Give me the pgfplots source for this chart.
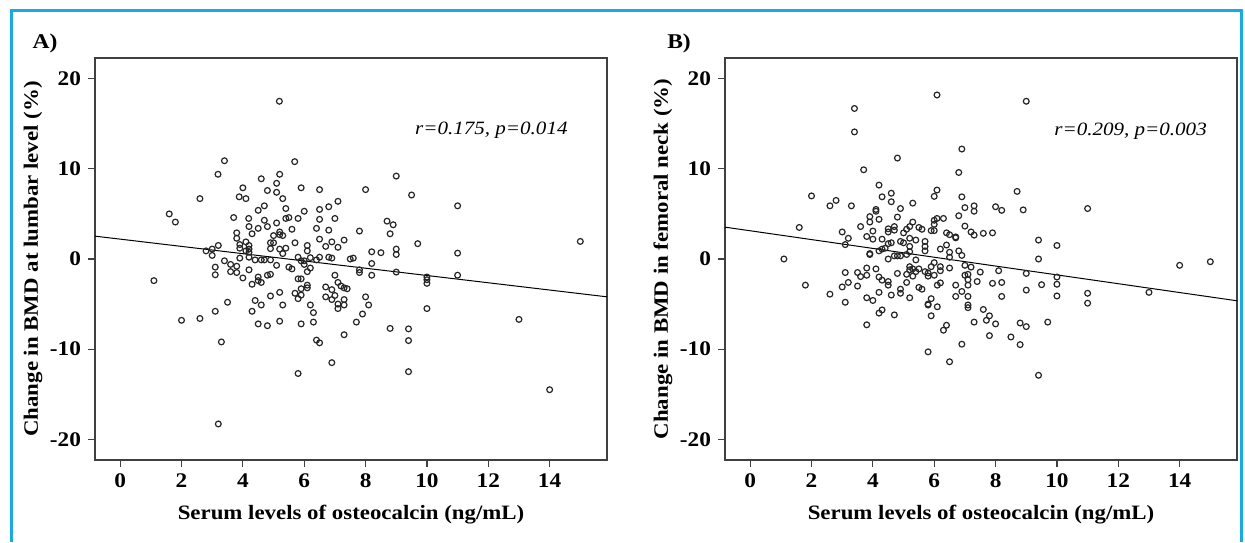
\documentclass[border=0pt]{standalone}
\usepackage{fontspec}
\setmainfont{Liberation Serif}[FakeStretch=1.12]
\usepackage{pgfplots}
\pgfplotsset{compat=1.18}
\definecolor{frameblue}{HTML}{1BA9E1}
\definecolor{axgray}{HTML}{404040}

\pgfplotsset{
  panel/.style={
    scale only axis, width=256pt, height=201pt,
    xmin=-0.82, xmax=15.87, ymin=-22.3, ymax=22.3,
    xtick={0,2,...,14}, ytick={-20,-10,...,20},
    axis line style={axgray, line width=0.6pt},
    tick style={axgray, line width=0.6pt},
    tick align=outside, major tick length=3.5pt,
    xtick pos=bottom, ytick pos=left,
    /pgf/number format/assume math mode=true,
    ticklabel style={font=\fontsize{10.4}{12}\selectfont\bfseries},
    label style={font=\fontsize{10.2}{12}\selectfont\bfseries},
    xlabel={Serum levels of osteocalcin (ng/mL)},
    xlabel style={at={([yshift=-27.5pt]axis description cs:0.5,0)}, anchor=center},
    ylabel style={at={([xshift=-31pt]axis description cs:0,0.5)}, anchor=center},
  },
  dots/.style={only marks, mark=o, mark size=1.45pt,
    mark options={line width=0.6pt, draw=black!85}},
  fit/.style={black, line width=0.5pt, no marks},
}

\begin{document}
\begin{tikzpicture}
\useasboundingbox (0,0) rectangle (622.5pt,271pt);
\draw[frameblue, line width=1.5pt] (5.75pt,0) -- (5.75pt,265.5pt) -- (620.5pt,265.5pt) -- (620.5pt,0);
\node[font=\fontsize{10.5}{12}\selectfont\bfseries] at (22.5pt,249.5pt) {A)};
\node[font=\fontsize{10.5}{12}\selectfont\bfseries] at (339.5pt,249.5pt) {B)};

% panel A: lumbar
\begin{axis}[panel, at={(47.5pt,41pt)}, anchor=south west,
  ylabel={Change in BMD at lumbar level (\%)}]
\addplot[dots] coordinates {
(5.19,17.5)(3.4,10.9)(5.69,10.8)(3.19,9.4)(5.2,9.4)(9.0,9.2)(4.6,8.9)(5.1,8.4)
(4.0,7.9)(5.9,7.9)(6.5,7.7)(8.0,7.7)(4.8,7.6)(5.1,7.4)(9.5,7.1)(3.88,6.9)
(4.1,6.7)(2.6,6.7)(5.3,6.7)(7.1,6.4)(11.0,5.9)(4.7,5.9)(6.8,5.8)(4.5,5.4)
(5.4,5.6)(6.5,5.5)(6.0,5.3)(1.6,5.0)(1.8,4.1)(3.7,4.6)(4.19,4.5)(5.5,4.6)
(5.4,4.5)(5.8,4.5)(6.5,4.4)(7.0,4.5)(4.7,4.3)(5.1,4.0)(4.8,3.6)(8.7,4.2)
(8.9,3.8)(4.2,3.6)(4.5,3.4)(5.6,3.3)(6.4,3.4)(6.8,3.2)(7.8,3.1)(3.8,2.9)
(4.3,2.8)(5.2,3.0)(5.2,2.7)(5.3,2.6)(5.0,2.6)(8.8,2.8)(3.8,2.3)(6.5,2.2)
(7.3,2.1)(4.1,1.9)(5.7,1.8)(6.9,1.9)(15.0,1.95)(9.7,1.7)(4.9,1.8)(5.0,1.8)
(3.2,1.5)(3.9,1.6)(4.2,1.5)(6.1,1.5)(6.7,1.4)(3.9,1.2)(5.4,1.2)(7.1,1.3)
(4.2,1.1)(4.1,0.9)(4.9,1.15)(5.2,1.1)(6.1,0.9)(9.0,1.1)(2.8,0.9)(3.0,1.1)
(8.2,0.8)(8.5,0.7)(11.0,0.65)(5.3,0.6)(9.0,0.5)(4.2,0.75)(3.0,0.4)(4.2,0.2)
(3.9,0.1)(5.8,0.2)(6.2,0.15)(6.5,0.2)(6.8,0.2)(6.9,0.1)(7.5,0.0)(7.6,0.1)
(4.4,-0.1)(4.6,-0.1)(4.7,-0.1)(4.9,-0.1)(3.4,-0.2)(5.9,-0.2)(6.0,-0.2)(6.4,-0.1)
(8.2,-0.5)(6.0,-0.6)(3.6,-0.6)(3.8,-0.8)(5.1,-0.7)(3.1,-0.9)(5.5,-0.9)(6.2,-1.0)
(5.6,-1.1)(4.2,-1.2)(6.1,-1.4)(7.8,-1.2)(3.6,-1.4)(3.8,-1.5)(7.8,-1.5)(9.0,-1.45)
(3.1,-1.75)(4.9,-1.7)(4.8,-1.8)(7.0,-1.8)(8.2,-1.8)(11.0,-1.8)(4.0,-2.1)(4.5,-2.0)
(5.8,-2.2)(5.9,-2.2)(10.0,-2.0)(10.0,-2.3)(10.0,-2.7)(4.5,-2.4)(4.6,-2.6)(1.1,-2.4)
(4.3,-2.8)(7.1,-2.6)(6.1,-2.9)(7.2,-3.0)(6.7,-3.1)(6.1,-3.2)(7.3,-3.2)(7.4,-3.3)
(5.9,-3.3)(6.9,-3.4)(5.2,-3.7)(5.7,-3.8)(5.9,-4.0)(4.9,-4.1)(7.0,-4.05)(6.7,-4.2)
(8.0,-4.2)(5.8,-4.4)(7.3,-4.5)(4.4,-4.6)(6.9,-4.5)(3.5,-4.8)(4.6,-5.1)(5.3,-5.1)
(7.1,-5.0)(6.2,-5.1)(7.3,-5.1)(8.1,-5.1)(10.0,-5.5)(7.1,-5.5)(3.1,-5.8)(4.3,-5.8)
(6.3,-5.95)(7.9,-6.1)(2.0,-6.8)(2.6,-6.6)(5.2,-6.9)(4.5,-7.2)(4.8,-7.4)(5.9,-7.2)
(6.3,-7.0)(7.7,-7.0)(8.8,-7.7)(9.4,-7.75)(13.0,-6.7)(7.3,-8.4)(6.4,-9.0)(6.5,-9.3)
(3.3,-9.2)(9.4,-9.05)(6.9,-11.5)(5.8,-12.7)(9.4,-12.5)(14.0,-14.5)(3.2,-18.3)
};
\addplot[fit] coordinates {(-0.82,2.536) (15.87,-4.197)};
\node[font=\fontsize{9.4}{11}\selectfont\itshape] at (axis cs:12.1,14.3) {r=0.175, p=0.014};
\end{axis}

% panel B: femoral neck
\begin{axis}[panel, at={(362.5pt,41pt)}, anchor=south west,
  ylabel={Change in BMD in femoral neck (\%)}]
\addplot[dots] coordinates {
(6.09,18.2)(9.0,17.5)(3.4,16.7)(3.4,14.1)(6.9,12.2)(4.8,11.2)(3.7,9.9)(6.8,9.6)
(4.2,8.2)(6.09,7.65)(8.7,7.5)(4.6,7.3)(2.0,7.0)(6.0,6.95)(6.9,6.9)(4.3,6.9)
(2.8,6.5)(4.6,6.35)(5.3,6.2)(2.6,5.9)(3.3,5.9)(7.3,5.9)(8.0,5.8)(7.0,5.7)
(4.9,5.6)(11.0,5.6)(4.1,5.5)(8.9,5.45)(8.2,5.4)(7.3,5.3)(4.1,5.3)(3.9,4.7)
(6.8,4.8)(4.8,4.65)(6.3,4.5)(6.09,4.5)(4.2,4.4)(6.0,4.3)(3.9,4.1)(5.3,4.1)
(6.0,3.85)(7.0,3.65)(3.6,3.6)(4.7,3.6)(5.2,3.6)(1.6,3.5)(5.5,3.5)(5.6,3.3)
(4.5,3.35)(5.1,3.3)(4.0,3.1)(6.0,3.15)(5.9,3.15)(4.7,3.2)(4.5,3.0)(3.0,3.0)
(7.2,3.0)(5.0,2.9)(7.9,2.9)(7.6,2.85)(6.4,2.9)(6.5,2.7)(7.3,2.65)(3.8,2.5)
(6.7,2.45)(6.7,2.35)(3.2,2.3)(4.0,2.2)(4.3,2.2)(5.4,2.1)(5.2,2.3)(9.4,2.1)
(4.9,1.95)(5.7,1.95)(4.6,1.8)(5.0,1.8)(3.1,1.6)(4.5,1.7)(5.7,1.4)(5.2,1.4)
(6.4,1.55)(10.0,1.5)(4.4,1.2)(6.2,1.1)(4.3,1.1)(5.7,0.9)(6.8,0.9)(4.2,0.9)
(5.2,0.8)(6.5,0.75)(3.9,0.6)(3.9,0.5)(5.1,0.5)(4.7,0.35)(4.8,0.35)(4.9,0.35)
(6.9,0.4)(6.5,0.2)(1.1,0.0)(4.5,0.0)(9.4,0.0)(5.4,-0.1)(15.0,-0.3)(6.0,-0.4)
(14.0,-0.7)(7.0,-0.7)(7.2,-0.9)(5.2,-0.85)(5.9,-0.85)(6.2,-0.85)(6.5,-1.0)(3.8,-1.0)
(4.1,-1.1)(5.3,-1.1)(5.5,-1.1)(5.2,-1.2)(6.2,-1.3)(8.1,-1.3)(5.4,-1.4)(5.7,-1.4)
(5.8,-1.55)(3.1,-1.5)(3.5,-1.5)(7.5,-1.45)(9.0,-1.6)(4.8,-1.6)(5.1,-1.7)(7.1,-1.7)
(7.0,-1.8)(3.8,-1.8)(3.6,-1.95)(5.3,-1.9)(6.0,-1.8)(5.8,-1.9)(10.0,-2.0)(4.2,-2.0)
(4.3,-2.35)(7.1,-2.3)(4.5,-2.5)(7.4,-2.5)(5.1,-2.6)(6.2,-2.65)(7.9,-2.7)(8.2,-2.6)
(3.2,-2.6)(10.0,-2.8)(4.5,-2.9)(6.1,-2.9)(1.8,-2.9)(6.7,-2.9)(7.1,-2.9)(9.5,-2.85)
(3.5,-3.0)(3.0,-3.1)(5.5,-3.15)(5.6,-3.35)(4.9,-3.35)(9.0,-3.45)(6.9,-3.6)(13.0,-3.7)
(4.2,-3.7)(4.9,-3.8)(11.0,-3.8)(2.6,-3.9)(4.6,-4.0)(10.0,-4.1)(6.7,-4.15)(8.2,-4.15)
(7.1,-4.15)(5.2,-4.3)(3.8,-4.3)(5.9,-4.4)(4.0,-4.6)(3.1,-4.8)(11.0,-4.9)(5.8,-5.0)
(5.8,-5.1)(7.1,-5.1)(7.1,-5.4)(6.1,-5.3)(7.6,-5.6)(4.3,-5.65)(4.2,-6.0)(4.7,-6.2)
(5.9,-6.3)(7.8,-6.3)(7.7,-6.8)(9.7,-7.0)(7.3,-7.0)(8.0,-7.2)(8.8,-7.1)(3.8,-7.3)
(9.0,-7.5)(6.4,-7.35)(6.3,-7.9)(7.8,-8.5)(8.5,-8.65)(6.9,-9.45)(8.8,-9.5)(5.8,-10.3)
(6.5,-11.4)(9.4,-12.9)
};
\addplot[fit] coordinates {(-0.82,3.535) (15.87,-4.635)};
\node[font=\fontsize{9.4}{11}\selectfont\itshape] at (axis cs:12.4,14.2) {r=0.209, p=0.003};
\end{axis}
\end{tikzpicture}
\end{document}
